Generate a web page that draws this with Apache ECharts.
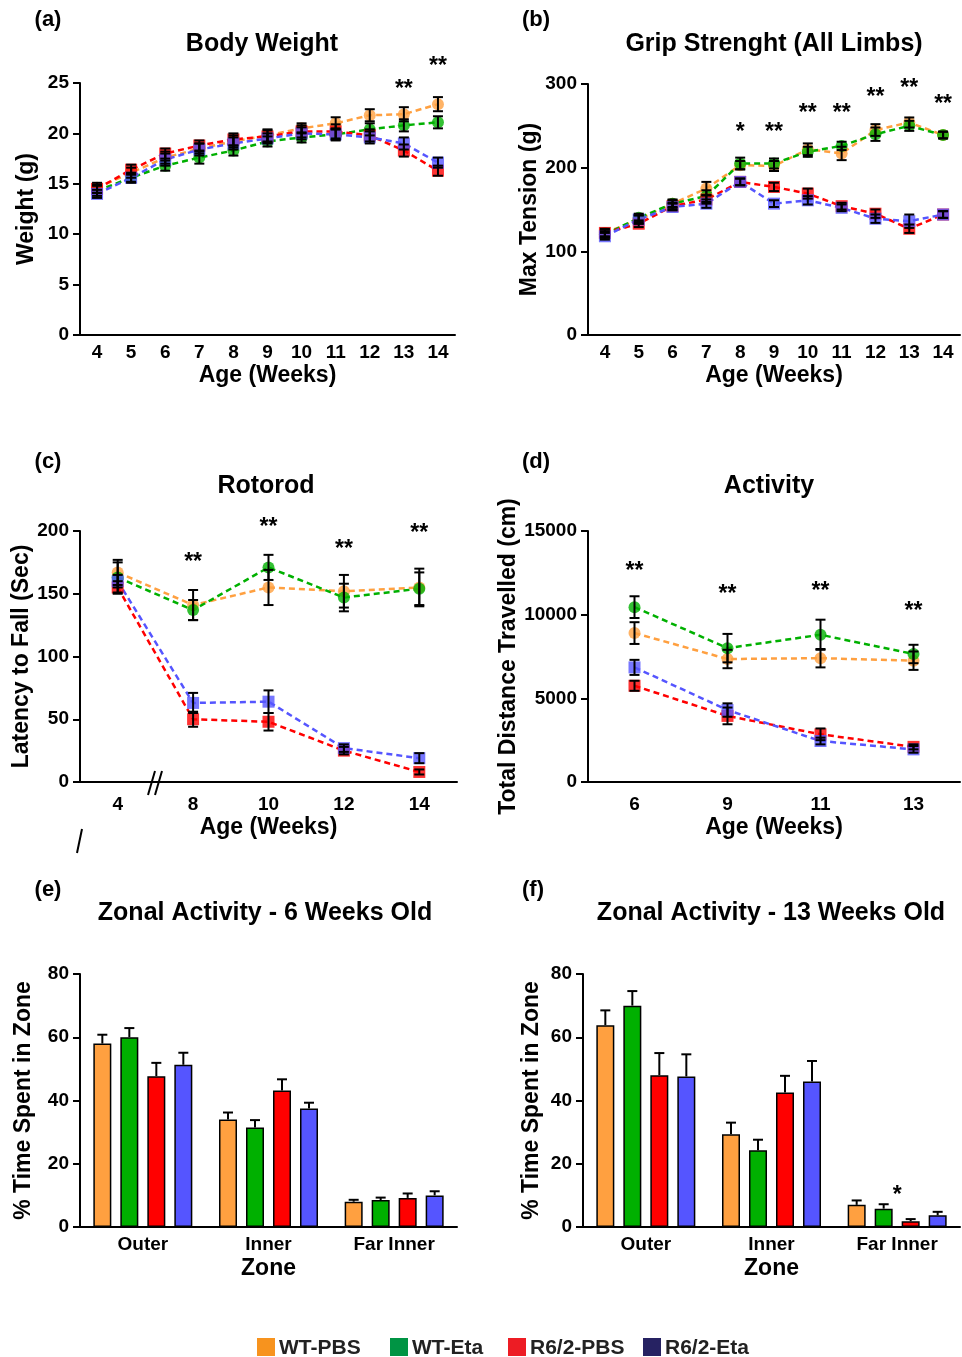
<!DOCTYPE html>
<html>
<head>
<meta charset="utf-8">
<script src="https://cdn.jsdelivr.net/npm/echarts@6/dist/echarts.min.js"></script>
<style>
  html, body { margin: 0; padding: 0; background: #fff; }
  #main { width: 962px; height: 1357px; }
</style>
</head>
<body>
<div id="main"></div>
<script>
// ---- data ----
// (a) body weight
const bwWeeks = ["4", "5", "6", "7", "8", "9", "10", "11", "12", "13", "14"];
const bwWtPbs = [14.6, 16.1, 17.6, 18.5, 19.2, 19.8, 20.5, 21.0, 21.8, 21.9, 22.9];
const bwWtPbsErr = [0.5, 0.5, 0.6, 0.5, 0.6, 0.6, 0.5, 0.6, 0.6, 0.7, 0.7];
const bwWtEta = [14.3, 15.6, 16.8, 17.6, 18.3, 19.2, 19.6, 19.9, 20.4, 20.8, 21.1];
const bwWtEtaErr = [0.5, 0.5, 0.5, 0.6, 0.5, 0.5, 0.5, 0.5, 0.6, 0.6, 0.6];
const bwR6Pbs = [14.5, 16.4, 18.0, 18.8, 19.4, 19.7, 20.2, 20.2, 19.8, 18.3, 16.3];
const bwR6PbsErr = [0.4, 0.5, 0.5, 0.5, 0.6, 0.6, 0.6, 0.7, 0.6, 0.6, 0.5];
const bwR6Eta = [14.0, 15.6, 17.4, 18.4, 19.0, 19.5, 20.0, 19.9, 19.6, 19.0, 17.1];
const bwR6EtaErr = [0.4, 0.4, 0.6, 0.6, 0.6, 0.5, 0.6, 0.6, 0.6, 0.6, 0.5];
const bwStarIdx = [9, 10];
const bwStarY = [24.8, 27.1];
const bwStarText = ["**", "**"];

// (b) grip strength
const gsWeeks = ["4", "5", "6", "7", "8", "9", "10", "11", "12", "13", "14"];
const gsWtPbs = [122, 138, 157, 175, 203, 202, 222, 217, 245, 254, 239];
const gsWtPbsErr = [5, 5, 5, 8, 5, 6, 7, 8, 7, 6, 4];
const gsWtEta = [120, 140, 157, 166, 205, 205, 219, 226, 240, 250, 239];
const gsWtEtaErr = [4, 5, 4, 7, 7, 6, 6, 5, 8, 6, 4];
const gsR6Pbs = [122, 133, 154, 162, 183, 177, 169, 154, 145, 127, 144];
const gsR6PbsErr = [4, 4, 4, 5, 4, 5, 6, 4, 5, 5, 4];
const gsR6Eta = [118, 138, 153, 157, 183, 157, 161, 152, 139, 136, 144];
const gsR6EtaErr = [4, 5, 4, 5, 4, 4, 5, 4, 5, 8, 4];
const gsStarIdx = [4, 5, 6, 7, 8, 9, 10];
const gsStarY = [248, 248, 271, 271, 290, 300, 281];
const gsStarText = ["*", "**", "**", "**", "**", "**", "**"];

// (c) rotorod
const rrWeeks = ["4", "8", "10", "12", "14"];
const rrWtPbs = [167, 141, 155, 152, 155];
const rrWtPbsErr = [10, 12, 14, 13, 15];
const rrWtEta = [163, 137, 171, 147, 154];
const rrWtEtaErr = [12, 8, 10, 11, 13];
const rrR6Pbs = [155, 50, 48, 25, 8];
const rrR6PbsErr = [5, 6, 7, 3, 2];
const rrR6Eta = [160, 63, 64, 27, 19];
const rrR6EtaErr = [5, 8, 9, 3, 4];
const rrStarIdx = [1, 2, 3, 4];
const rrStarY = [179, 207, 189, 202];

// (d) activity
const acWeeks = ["6", "9", "11", "13"];
const acWtPbs = [8900, 7350, 7400, 7250];
const acWtPbsErr = [650, 550, 550, 550];
const acWtEta = [10450, 8000, 8800, 7650];
const acWtEtaErr = [650, 850, 900, 550];
const acR6Pbs = [5750, 3950, 2850, 2100];
const acR6PbsErr = [300, 500, 350, 150];
const acR6Eta = [6850, 4300, 2450, 1950];
const acR6EtaErr = [450, 400, 200, 200];
const acStarIdx = [0, 1, 2, 3];
const acStarY = [12850, 11470, 11650, 10460];

// (e) zonal activity 6 weeks
const zones = ["Outer", "Inner", "Far Inner"];
const z6WtPbs = [58.0, 34.0, 8.0];
const z6WtPbsErr = [2.8, 2.2, 0.6];
const z6WtEta = [60.0, 31.5, 8.5];
const z6WtEtaErr = [2.9, 2.3, 0.8];
const z6R6Pbs = [47.7, 43.2, 9.2];
const z6R6PbsErr = [4.2, 3.5, 1.4];
const z6R6Eta = [51.3, 37.5, 10.0];
const z6R6EtaErr = [3.8, 1.8, 1.3];

// (f) zonal activity 13 weeks
const z13WtPbs = [63.8, 29.3, 7.0];
const z13WtPbsErr = [4.7, 3.7, 1.4];
const z13WtEta = [70.0, 24.3, 5.8];
const z13WtEtaErr = [4.6, 3.3, 1.4];
const z13R6Pbs = [48.0, 42.5, 1.8];
const z13R6PbsErr = [7.0, 5.3, 0.7];
const z13R6Eta = [47.6, 46.0, 3.7];
const z13R6EtaErr = [7.0, 6.5, 1.1];
const z13StarIdx = [2];
const z13StarY = [11.5];

const groups = ["WT-PBS", "WT-Eta", "R6/2-PBS", "R6/2-Eta"];
const groupColors = ["#FFA040", "#00B000", "#FF0000", "#5555FF"];
const legendColors = ["#F7931E", "#009444", "#ED1C24", "#262262"];

// ---- helpers ----
const FONT = '"Liberation Sans", Arial, Helvetica, sans-serif';
const txt = (size) => ({ color: "#000", fontSize: size, fontWeight: "bold", fontFamily: FONT });

function xCat(gi, cats, name, gap, lm) {
  return {
    type: "category", gridIndex: gi, data: cats, boundaryGap: true,
    axisLine: { lineStyle: { color: "#000", width: 2 } },
    axisTick: { alignWithLabel: true, length: 6, lineStyle: { color: "#000", width: 2 } },
    axisLabel: Object.assign({ margin: lm, interval: 0 }, txt(19)),
    name: name, nameLocation: "middle", nameGap: gap, nameTextStyle: txt(23)
  };
}

function yVal(gi, max, interval, name, gap) {
  return {
    type: "value", gridIndex: gi, min: 0, max: max, interval: interval,
    splitLine: { show: false },
    axisLine: { show: true, lineStyle: { color: "#000", width: 2 } },
    axisTick: { show: true, length: 7, lineStyle: { color: "#000", width: 2 } },
    axisLabel: Object.assign({ margin: 11, formatter: (v) => String(v) }, txt(19)),
    name: name, nameLocation: "middle", nameGap: gap, nameTextStyle: txt(23)
  };
}

function lineS(gi, vals, k) {
  return {
    type: "line", xAxisIndex: gi, yAxisIndex: gi, data: vals, z: 2,
    symbol: k < 2 ? "circle" : "rect", symbolSize: 12,
    itemStyle: { color: groupColors[k], opacity: 0.8 },
    lineStyle: { color: groupColors[k], width: 2.5, type: [6, 4] },
    animation: false
  };
}

function errS(gi, vals, errs) {
  return {
    type: "custom", xAxisIndex: gi, yAxisIndex: gi, z: 5, animation: false,
    data: vals.map((v, i) => [i, v - errs[i], v + errs[i]]),
    renderItem: function (params, api) {
      const x = api.value(0);
      const lo = api.coord([x, api.value(1)]);
      const hi = api.coord([x, api.value(2)]);
      const w = 5;
      const st = { stroke: "#000", lineWidth: 2 };
      return {
        type: "group", children: [
          { type: "line", shape: { x1: lo[0], y1: lo[1], x2: hi[0], y2: hi[1] }, style: st },
          { type: "line", shape: { x1: lo[0] - w, y1: lo[1], x2: lo[0] + w, y2: lo[1] }, style: st },
          { type: "line", shape: { x1: hi[0] - w, y1: hi[1], x2: hi[0] + w, y2: hi[1] }, style: st }
        ]
      };
    }
  };
}

function barS(gi, vals, k) {
  return {
    type: "bar", xAxisIndex: gi, yAxisIndex: gi, data: vals, name: groups[k],
    barWidth: 18, barGap: "50%", animation: false,
    itemStyle: { color: groupColors[k], borderColor: "#000", borderWidth: 1.5 }
  };
}

// upper-only error bar on a grouped bar (4 bars of 18px, 9px gap)
function barErrS(gi, vals, errs, k) {
  return {
    type: "custom", xAxisIndex: gi, yAxisIndex: gi, z: 1, animation: false,
    data: vals.map((v, i) => [i, v, v + errs[i]]),
    renderItem: function (params, api) {
      const x = api.value(0);
      const off = (k - 1.5) * 27;
      const lo = api.coord([x, api.value(1)]);
      const hi = api.coord([x, api.value(2)]);
      const cx = lo[0] + off;
      const st = { stroke: "#000", lineWidth: 2 };
      return {
        type: "group", children: [
          { type: "line", shape: { x1: cx, y1: lo[1], x2: cx, y2: hi[1] }, style: st },
          { type: "line", shape: { x1: cx - 5, y1: hi[1], x2: cx + 5, y2: hi[1] }, style: st }
        ]
      };
    }
  };
}

function starS(gi, idx, ys, texts) {
  return {
    type: "custom", xAxisIndex: gi, yAxisIndex: gi, z: 6, animation: false, clip: false,
    data: idx.map((x, i) => [x, ys[i]]),
    renderItem: function (params, api) {
      const p = api.coord([api.value(0), api.value(1)]);
      const t = texts ? texts[params.dataIndex] : "**";
      return {
        type: "text", x: p[0], y: p[1] + 5,
        style: { text: t, fill: "#000", font: "bold 23px " + FONT, textAlign: "center", textVerticalAlign: "middle" }
      };
    }
  };
}

function lineBlock(gi, sets) {
  const out = [];
  sets.forEach((s, k) => out.push(lineS(gi, s[0], k)));
  sets.forEach((s) => out.push(errS(gi, s[0], s[1])));
  return out;
}

// ---- chart ----
const chart = echarts.init(document.getElementById("main"));

const graphics = [];
function label(x, y, text, size) {
  graphics.push({
    type: "text", x: x, y: y,
    style: { text: text, fill: "#000", font: "bold " + size + "px " + FONT, textAlign: "center", textVerticalAlign: "middle" }
  });
}
label(48, 20, "(a)", 22); label(262, 44, "Body Weight", 25);
label(536, 20, "(b)", 22); label(774, 44, "Grip Strenght (All Limbs)", 25);
label(48, 462, "(c)", 22); label(266, 486, "Rotorod", 25);
label(536, 462, "(d)", 22); label(769, 486, "Activity", 25);
label(48, 890, "(e)", 22); label(265, 913, "Zonal Activity - 6 Weeks Old", 25);
label(533, 890, "(f)", 22); label(771, 913, "Zonal Activity - 13 Weeks Old", 25);

// axis break marks on panel (c)
graphics.push({ type: "line", shape: { x1: 148, y1: 795, x2: 155, y2: 771 }, style: { stroke: "#000", lineWidth: 2 } });
graphics.push({ type: "line", shape: { x1: 155, y1: 795, x2: 162, y2: 771 }, style: { stroke: "#000", lineWidth: 2 } });
graphics.push({ type: "line", shape: { x1: 77, y1: 853, x2: 82, y2: 829 }, style: { stroke: "#000", lineWidth: 2 } });

// legend
const legX = [257, 390, 508, 643];
groups.forEach((g, k) => {
  graphics.push({ type: "rect", shape: { x: legX[k], y: 1338, width: 18, height: 18 }, style: { fill: legendColors[k] } });
  graphics.push({
    type: "text", x: legX[k] + 22, y: 1348,
    style: { text: g, fill: "#222", font: "bold 21px " + FONT, textAlign: "left", textVerticalAlign: "middle" }
  });
});

const option = {
  backgroundColor: "#fff",
  animation: false,
  grid: [
    { left: 80, top: 83, width: 375, height: 252 },
    { left: 588, top: 84, width: 372, height: 251 },
    { left: 80, top: 531, width: 377, height: 251 },
    { left: 588, top: 531, width: 372, height: 251 },
    { left: 80, top: 974, width: 377, height: 253 },
    { left: 583, top: 974, width: 377, height: 253 }
  ],
  xAxis: [
    xCat(0, bwWeeks, "Age (Weeks)", 29, 8),
    xCat(1, gsWeeks, "Age (Weeks)", 29, 8),
    xCat(2, rrWeeks, "Age (Weeks)", 34, 13),
    xCat(3, acWeeks, "Age (Weeks)", 34, 13),
    xCat(4, zones, "Zone", 30, 8),
    xCat(5, zones, "Zone", 30, 8)
  ],
  yAxis: [
    yVal(0, 25, 5, "Weight (g)", 42),
    yVal(1, 300, 100, "Max Tension (g)", 39),
    yVal(2, 200, 50, "Latency to Fall (Sec)", 42),
    yVal(3, 15000, 5000, "Total Distance Travelled (cm)", 56),
    yVal(4, 80, 20, "% Time Spent in Zone", 45),
    yVal(5, 80, 20, "% Time Spent in Zone", 40)
  ],
  series: [].concat(
    lineBlock(0, [[bwWtPbs, bwWtPbsErr], [bwWtEta, bwWtEtaErr], [bwR6Pbs, bwR6PbsErr], [bwR6Eta, bwR6EtaErr]]),
    [starS(0, bwStarIdx, bwStarY, bwStarText)],
    lineBlock(1, [[gsWtPbs, gsWtPbsErr], [gsWtEta, gsWtEtaErr], [gsR6Pbs, gsR6PbsErr], [gsR6Eta, gsR6EtaErr]]),
    [starS(1, gsStarIdx, gsStarY, gsStarText)],
    lineBlock(2, [[rrWtPbs, rrWtPbsErr], [rrWtEta, rrWtEtaErr], [rrR6Pbs, rrR6PbsErr], [rrR6Eta, rrR6EtaErr]]),
    [starS(2, rrStarIdx, rrStarY)],
    lineBlock(3, [[acWtPbs, acWtPbsErr], [acWtEta, acWtEtaErr], [acR6Pbs, acR6PbsErr], [acR6Eta, acR6EtaErr]]),
    [starS(3, acStarIdx, acStarY)],
    [barS(4, z6WtPbs, 0), barS(4, z6WtEta, 1), barS(4, z6R6Pbs, 2), barS(4, z6R6Eta, 3)],
    [barErrS(4, z6WtPbs, z6WtPbsErr, 0), barErrS(4, z6WtEta, z6WtEtaErr, 1),
     barErrS(4, z6R6Pbs, z6R6PbsErr, 2), barErrS(4, z6R6Eta, z6R6EtaErr, 3)],
    [barS(5, z13WtPbs, 0), barS(5, z13WtEta, 1), barS(5, z13R6Pbs, 2), barS(5, z13R6Eta, 3)],
    [barErrS(5, z13WtPbs, z13WtPbsErr, 0), barErrS(5, z13WtEta, z13WtEtaErr, 1),
     barErrS(5, z13R6Pbs, z13R6PbsErr, 2), barErrS(5, z13R6Eta, z13R6EtaErr, 3)],
    [starS(5, z13StarIdx, z13StarY, ["*"])]
  ),
  graphic: graphics
};

chart.setOption(option);
</script>
</body>
</html>
